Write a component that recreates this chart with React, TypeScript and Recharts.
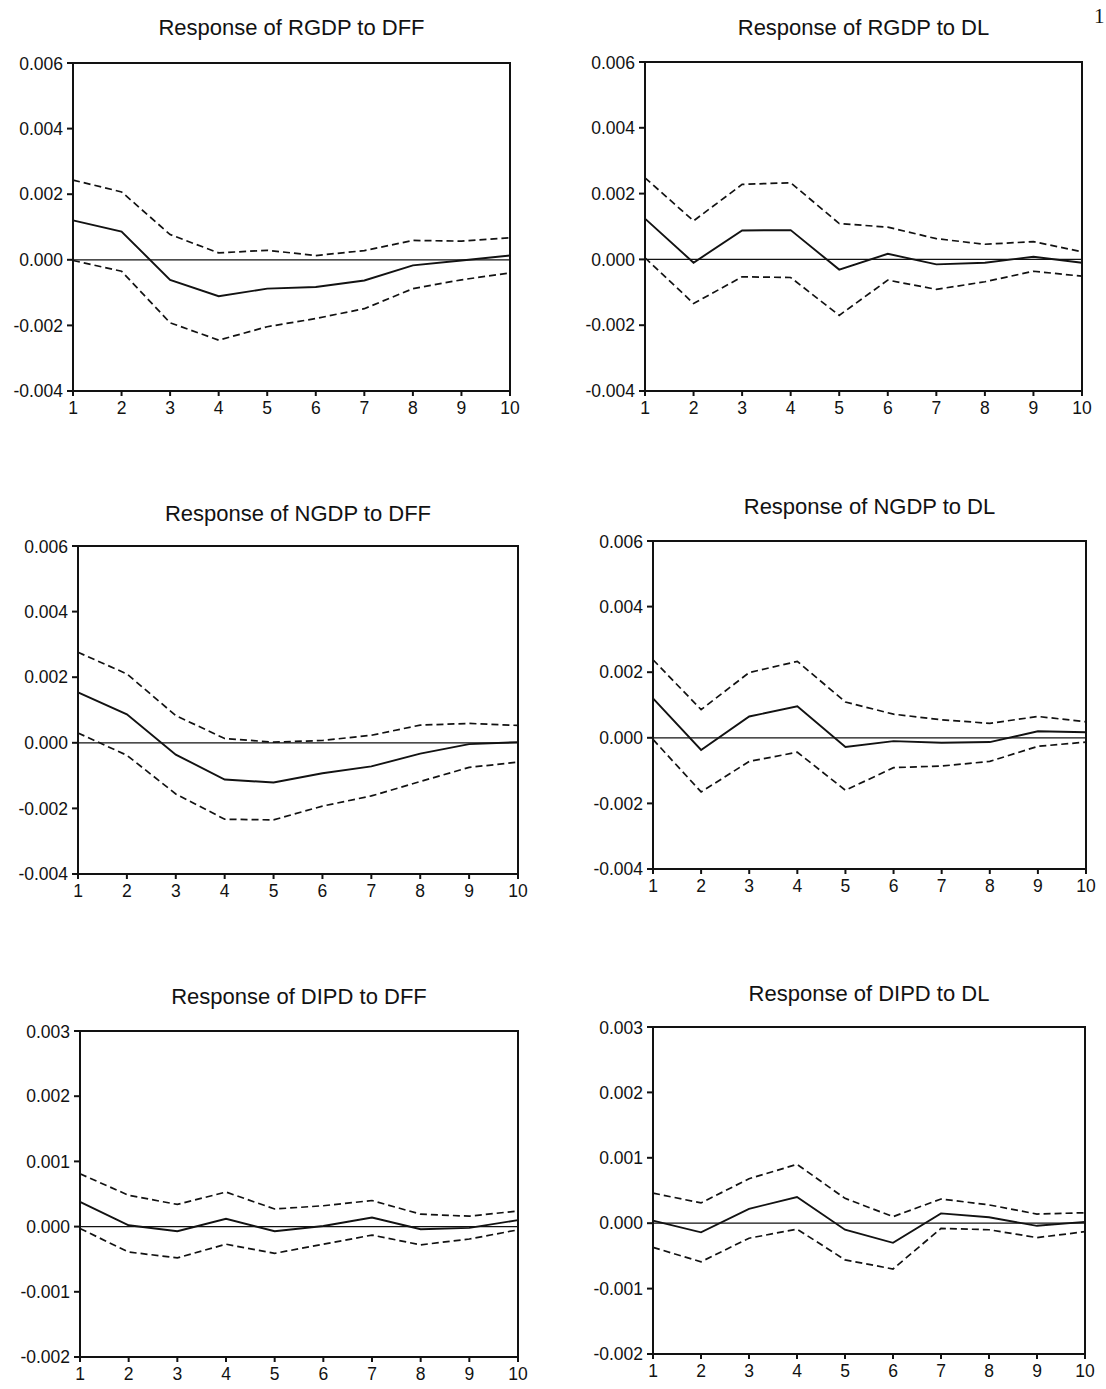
import { LineChart, Line, XAxis, YAxis, ReferenceLine, ReferenceArea } from 'recharts';

const steps = [1, 2, 3, 4, 5, 6, 7, 8, 9, 10];

const gdpTicks = [-0.004, -0.002, 0, 0.002, 0.004, 0.006];
const ipdTicks = [-0.002, -0.001, 0, 0.001, 0.002, 0.003];

// Response of RGDP to DFF
const rgdpDffResp = [0.0012, 0.00086, -0.00061, -0.00111, -0.00088, -0.00083, -0.00063, -0.00017, -0.00002, 0.00013];
const rgdpDffUpper = [0.00243, 0.00207, 0.00077, 0.00021, 0.00029, 0.00013, 0.00028, 0.00059, 0.00057, 0.00067];
const rgdpDffLower = [-0.00002, -0.00035, -0.00192, -0.00245, -0.00204, -0.00179, -0.00149, -0.00088, -0.00061, -0.0004];

// Response of RGDP to DL
const rgdpDlResp = [0.00124, -0.0001, 0.00088, 0.00089, -0.00031, 0.00017, -0.00015, -0.0001, 0.00008, -0.0001];
const rgdpDlUpper = [0.00248, 0.00117, 0.00228, 0.00233, 0.00109, 0.00098, 0.00063, 0.00046, 0.00054, 0.00023];
const rgdpDlLower = [0.00005, -0.00134, -0.00053, -0.00055, -0.0017, -0.00063, -0.00091, -0.00068, -0.00036, -0.00051];

// Response of NGDP to DFF
const ngdpDffResp = [0.00154, 0.00087, -0.00036, -0.00112, -0.00121, -0.00093, -0.00072, -0.00033, -0.00004, 0.00002];
const ngdpDffUpper = [0.00276, 0.0021, 0.00083, 0.00013, 0.00002, 0.00007, 0.00023, 0.00054, 0.00059, 0.00053];
const ngdpDffLower = [0.0003, -0.00038, -0.00156, -0.00233, -0.00235, -0.00193, -0.00162, -0.00118, -0.00075, -0.00059];

// Response of NGDP to DL
const ngdpDlResp = [0.0012, -0.00037, 0.00065, 0.00096, -0.00028, -0.0001, -0.00015, -0.00013, 0.0002, 0.00017];
const ngdpDlUpper = [0.00238, 0.00086, 0.00199, 0.00233, 0.00109, 0.00072, 0.00055, 0.00044, 0.00065, 0.00049];
const ngdpDlLower = [-0.00005, -0.00165, -0.00072, -0.00044, -0.0016, -0.00091, -0.00086, -0.00072, -0.00026, -0.00013];

// Response of DIPD to DFF
const dipdDffResp = [0.00038, 0.00002, -0.00007, 0.00012, -0.00007, 0.00001, 0.00014, -0.00004, -0.00002, 0.0001];
const dipdDffUpper = [0.00081, 0.00048, 0.00034, 0.00053, 0.00027, 0.00032, 0.0004, 0.00019, 0.00016, 0.00024];
const dipdDffLower = [-0.00003, -0.00039, -0.00048, -0.00027, -0.00041, -0.00027, -0.00013, -0.00028, -0.00019, -0.00005];

// Response of DIPD to DL
const dipdDlResp = [0.00004, -0.00014, 0.00022, 0.0004, -0.0001, -0.0003, 0.00015, 0.00009, -0.00004, 0.00002];
const dipdDlUpper = [0.00046, 0.00031, 0.00068, 0.0009, 0.00038, 0.0001, 0.00037, 0.00028, 0.00014, 0.00016];
const dipdDlLower = [-0.00037, -0.00059, -0.00023, -0.00009, -0.00056, -0.0007, -0.00008, -0.0001, -0.00022, -0.00013];

const buildRows = (resp: number[], upper: number[], lower: number[]) =>
  steps.map((s, i) => ({ step: s, resp: resp[i], upper: upper[i], lower: lower[i] }));

const FONT = '"Liberation Sans", Arial, Helvetica, sans-serif';
const INK = '#121212';

interface PanelProps {
  title: string;
  rows: Array<{ step: number; resp: number; upper: number; lower: number }>;
  ticks: number[];
  // plot rectangle in page pixels
  left: number;
  top: number;
  right: number;
  bottom: number;
  titleBaseline: number;
}

function Panel({ title, rows, ticks, left, top, right, bottom, titleBaseline }: PanelProps) {
  const yAxisW = 80;
  const mTop = 10;
  const xAxisH = 40;
  const mRight = 24;
  const plotW = right - left;
  const plotH = bottom - top;
  const yMin = ticks[0];
  const yMax = ticks[ticks.length - 1];
  const tickStyle = { fill: INK, fontSize: 17.5, fontFamily: FONT };

  return (
    <>
      <div
        style={{
          position: 'absolute',
          left: left - 100,
          width: plotW + 200,
          top: titleBaseline - 19,
          textAlign: 'center',
          fontFamily: FONT,
          fontSize: 22,
          lineHeight: '22px',
          color: INK,
          whiteSpace: 'nowrap',
        }}
      >
        {title}
      </div>
      <div style={{ position: 'absolute', left: left - yAxisW, top: top - mTop }}>
        <LineChart
          width={plotW + yAxisW + mRight}
          height={plotH + mTop + xAxisH}
          data={rows}
          margin={{ top: mTop, right: mRight, bottom: 0, left: 0 }}
        >
          <XAxis
            dataKey="step"
            type="number"
            domain={[1, 10]}
            ticks={steps}
            height={xAxisH}
            tickSize={5}
            tickMargin={6}
            tick={tickStyle}
            stroke={INK}
            strokeWidth={2}
          />
          <YAxis
            type="number"
            domain={[yMin, yMax]}
            ticks={ticks}
            width={yAxisW}
            tickSize={6}
            tickMargin={4}
            tick={tickStyle}
            tickFormatter={(v: number) => (Math.abs(v) < 1e-12 ? '0.000' : v.toFixed(3))}
            stroke={INK}
            strokeWidth={2}
            allowDataOverflow
          />
          <ReferenceArea
            x1={1}
            x2={10}
            y1={yMin}
            y2={yMax}
            fill="none"
            stroke={INK}
            strokeWidth={2}
          />
          <ReferenceLine y={0} stroke={INK} strokeWidth={1.2} />
          <Line
            type="linear"
            dataKey="upper"
            stroke={INK}
            strokeWidth={1.7}
            strokeDasharray="7 4"
            dot={false}
            isAnimationActive={false}
          />
          <Line
            type="linear"
            dataKey="lower"
            stroke={INK}
            strokeWidth={1.7}
            strokeDasharray="7 4"
            dot={false}
            isAnimationActive={false}
          />
          <Line
            type="linear"
            dataKey="resp"
            stroke={INK}
            strokeWidth={1.9}
            dot={false}
            isAnimationActive={false}
          />
        </LineChart>
      </div>
    </>
  );
}

export default function App() {
  return (
    <div
      style={{
        position: 'absolute',
        left: 0,
        top: 0,
        width: 1106,
        height: 1389,
        background: '#fff',
        overflow: 'hidden',
      }}
    >
      <div
        style={{
          position: 'absolute',
          left: 1094,
          top: 4,
          fontFamily: '"Liberation Serif", "Times New Roman", serif',
          fontSize: 21,
          color: INK,
        }}
      >
        1
      </div>
      <Panel
        title="Response of RGDP to DFF"
        rows={buildRows(rgdpDffResp, rgdpDffUpper, rgdpDffLower)}
        ticks={gdpTicks}
        left={73}
        top={63}
        right={510}
        bottom={391}
        titleBaseline={36}
      />
      <Panel
        title="Response of RGDP to DL"
        rows={buildRows(rgdpDlResp, rgdpDlUpper, rgdpDlLower)}
        ticks={gdpTicks}
        left={645}
        top={62}
        right={1082}
        bottom={391}
        titleBaseline={36}
      />
      <Panel
        title="Response of NGDP to DFF"
        rows={buildRows(ngdpDffResp, ngdpDffUpper, ngdpDffLower)}
        ticks={gdpTicks}
        left={78}
        top={546}
        right={518}
        bottom={874}
        titleBaseline={522}
      />
      <Panel
        title="Response of NGDP to DL"
        rows={buildRows(ngdpDlResp, ngdpDlUpper, ngdpDlLower)}
        ticks={gdpTicks}
        left={653}
        top={541}
        right={1086}
        bottom={869}
        titleBaseline={515}
      />
      <Panel
        title="Response of DIPD to DFF"
        rows={buildRows(dipdDffResp, dipdDffUpper, dipdDffLower)}
        ticks={ipdTicks}
        left={80}
        top={1031}
        right={518}
        bottom={1357}
        titleBaseline={1005}
      />
      <Panel
        title="Response of DIPD to DL"
        rows={buildRows(dipdDlResp, dipdDlUpper, dipdDlLower)}
        ticks={ipdTicks}
        left={653}
        top={1027}
        right={1085}
        bottom={1354}
        titleBaseline={1002}
      />
    </div>
  );
}
